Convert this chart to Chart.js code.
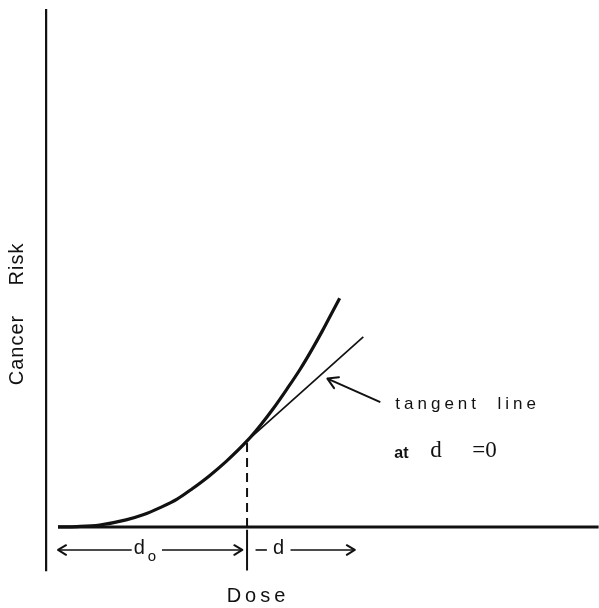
<!DOCTYPE html>
<html lang="en">
<head>
<meta charset="UTF-8">
<title>Cancer Risk vs Dose</title>
<script src="https://cdn.jsdelivr.net/npm/chart.js@4.4.1/dist/chart.umd.min.js"></script>
<style>
  html, body { margin: 0; padding: 0; background: #fff; }
  #chartContainer { width: 599px; height: 608px; }
</style>
</head>
<body>
<div id="chartContainer">
  <canvas id="chart" width="599" height="608"></canvas>
</div>
<script>
// dose-response curve (dose units chosen so that d0 = 10)
const doses = [0, 1, 2.2, 3.6, 4.5, 5.4, 6.3, 7.1, 8, 8.9, 10, 10.7, 11.4, 12.1, 12.8, 13.4, 14.0, 14.5, 14.9];
const risks = [0, 0.02, 0.1, 0.37, 0.64, 1.02, 1.47, 2.02, 2.7, 3.47, 4.55, 5.37, 6.28, 7.28, 8.33, 9.33, 10.4, 11.35, 12.1];

// tangent line drawn at d0
const tangentDoses = [10, 16.15];
const tangentRisks = [4.55, 10.05];

const d0 = 10;
const doseEnd = 28.6;        // where the dose baseline stops
const riskAxisDose = -0.63;  // position of the risk axis
const riskAxisTop = 27.4;
const riskAxisBottom = -2.35;

// dimension arrows under the baseline
const arrowRisk = -1.22;
const d0ArrowLeft = [0, 3.9];
const d0ArrowRight = [5.5, 9.75];
const dDash = [10.45, 11.05];
const dArrow = [12.3, 15.7];
const labelArrow = { from: [17.05, 6.6], to: [14.25, 7.85] };

const black = '#111';

function seg(xs, ys) {
  return xs.map((x, i) => ({ x: x, y: ys[i] }));
}

function lineSet(data, width, extra) {
  return Object.assign({
    data: data,
    showLine: true,
    borderColor: black,
    borderWidth: width,
    pointRadius: 0,
    fill: false
  }, extra || {});
}

function chevron(ctx, x, y, angle, size) {
  ctx.save();
  ctx.translate(x, y);
  ctx.rotate(angle);
  ctx.beginPath();
  ctx.moveTo(-size, -size * 0.6);
  ctx.lineTo(0, 0);
  ctx.lineTo(-size, size * 0.6);
  ctx.lineWidth = 2;
  ctx.lineCap = 'round';
  ctx.lineJoin = 'round';
  ctx.strokeStyle = black;
  ctx.stroke();
  ctx.restore();
}

const annotations = {
  id: 'annotations',
  afterDatasetsDraw(chart) {
    const ctx = chart.ctx;
    const xs = chart.scales.x, ys = chart.scales.y;
    const px = v => xs.getPixelForValue(v);
    const py = v => ys.getPixelForValue(v);

    // arrow heads
    const ay = py(arrowRisk);
    chevron(ctx, px(d0ArrowLeft[0]), ay, Math.PI, 8);
    chevron(ctx, px(d0ArrowRight[1]), ay, 0, 8);
    chevron(ctx, px(dArrow[1]), ay, 0, 8);
    const fx = px(labelArrow.from[0]), fy = py(labelArrow.from[1]);
    const tx = px(labelArrow.to[0]), ty = py(labelArrow.to[1]);
    chevron(ctx, tx, ty, Math.atan2(ty - fy, tx - fx), 10);

    ctx.save();
    ctx.fillStyle = black;
    ctx.textBaseline = 'middle';

    // axis titles
    ctx.font = '20px "Liberation Sans", Arial, sans-serif';
    ctx.letterSpacing = '1px';
    ctx.textAlign = 'center';
    ctx.save();
    ctx.translate(17, 0);
    ctx.rotate(-Math.PI / 2);
    ctx.fillText('Cancer', -350, 0);
    ctx.fillText('Risk', -264, 0);
    ctx.restore();

    ctx.letterSpacing = '4px';
    ctx.fillText('Dose', 258, 596);

    // dimension labels
    ctx.textAlign = 'left';
    ctx.letterSpacing = '0px';
    ctx.font = '20px "Liberation Sans", Arial, sans-serif';
    ctx.fillText('d', px(d0ArrowLeft[1]) + 2, ay - 1);
    ctx.font = '15px "Liberation Sans", Arial, sans-serif';
    ctx.fillText('o', px(d0ArrowLeft[1]) + 16, ay + 7);
    ctx.font = '20px "Liberation Sans", Arial, sans-serif';
    ctx.fillText('d', px(dDash[1]) + 6, ay - 1);

    // tangent label
    ctx.font = '17px "Liberation Sans", Arial, sans-serif';
    ctx.letterSpacing = '4px';
    ctx.fillText('tangent  line', fx + 15, fy + 2);
    ctx.letterSpacing = '0px';
    ctx.font = 'bold 16px "Liberation Sans", Arial, sans-serif';
    ctx.fillText('at', fx + 14, fy + 51);
    ctx.font = '23px "Liberation Serif", "Times New Roman", serif';
    ctx.fillText('d', fx + 50, fy + 49);
    ctx.fillText('=0', fx + 92, fy + 49);
    ctx.restore();
  }
};

const ctx = document.getElementById('chart').getContext('2d');
const chart = new Chart(ctx, {
  type: 'scatter',
  data: {
    datasets: [
      lineSet(seg(doses, risks), 3.2, { cubicInterpolationMode: 'monotone' }),
      lineSet(seg(tangentDoses, tangentRisks), 1.7),
      lineSet(seg([0, doseEnd], [0, 0]), 3),
      lineSet(seg([riskAxisDose, riskAxisDose], [riskAxisTop, riskAxisBottom]), 2.2),
      lineSet(seg([d0, d0], [0, tangentRisks[0]]), 2, { borderDash: [9, 6] }),
      lineSet(seg([d0, d0], [-0.15, -2.3]), 2),
      lineSet(seg(d0ArrowLeft, [arrowRisk, arrowRisk]), 1.6),
      lineSet(seg(d0ArrowRight, [arrowRisk, arrowRisk]), 1.6),
      lineSet(seg(dDash, [arrowRisk, arrowRisk]), 1.6),
      lineSet(seg(dArrow, [arrowRisk, arrowRisk]), 1.6),
      lineSet(seg([labelArrow.from[0], labelArrow.to[0]], [labelArrow.from[1], labelArrow.to[1]]), 2)
    ]
  },
  options: {
    responsive: false,
    animation: false,
    layout: { padding: 0 },
    plugins: { legend: { display: false }, tooltip: { enabled: false } },
    scales: {
      x: { type: 'linear', min: -3.07, max: 28.62, display: false },
      y: { type: 'linear', min: -4.29, max: 27.88, display: false }
    }
  },
  plugins: [annotations]
});
</script>
</body>
</html>
